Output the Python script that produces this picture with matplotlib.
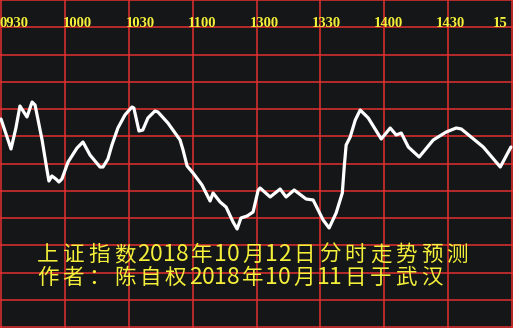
import matplotlib
matplotlib.use("Agg")
import matplotlib.pyplot as plt
from matplotlib.transforms import IdentityTransform

# ---- data ----
time_labels = ["0930", "1000", "1030", "1100", "1300", "1330", "1400", "1430", "15"]
# minutes after 09:30 (trading minutes) and relative index level (chart units)
minutes = [0.0, 4.7, 7.0, 8.9, 12.2, 14.6, 16.0, 19.3, 21.6, 22.5, 23.9, 25.8, 27.2, 28.6,
           31.5, 35.7, 38.5, 41.8, 46.5, 47.9, 50.2, 52.1, 54.9, 58.2, 61.5, 62.4, 64.8,
           66.6, 69.0, 72.3, 73.7, 78.4, 84.1, 85.5, 87.4, 90.2, 94.4, 98.2, 99.6, 102.9,
           105.7, 109.0, 110.9, 112.7, 115.6, 118.4, 120.8, 121.7, 126.4, 131.1, 133.9,
           137.7, 143.3, 146.6, 151.3, 154.1, 157.4, 160.3, 161.2, 162.1, 164.0, 166.4,
           168.7, 172.5, 178.6, 182.8, 185.6, 188.0, 191.3, 196.4, 203.0, 209.1, 213.8,
           216.2, 226.5, 234.5, 239.5]
level = [208, 178, 199, 221, 210, 225, 222, 187, 157, 146, 151, 148, 145, 148,
         165, 179, 185, 172, 160, 160, 168, 182, 199, 212, 220, 219, 196,
         197, 209, 216, 215, 204, 187, 177, 161, 154, 142, 126, 134, 125,
         120, 105, 98, 109, 111, 115, 137, 139, 130, 138, 130,
         137, 128, 127, 107, 99, 114, 134, 160, 182, 190, 207,
         217, 209, 188, 199, 192, 194, 180, 170, 187, 195, 199,
         198, 180, 160, 180]
title_lines = ["上证指数2018年10月12日分时走势预测",
               "作者：陈自权2018年10月11日于武汉"]

# ---- style ----
BG = "#151618"
RED = "#e3302f"
YEL = "#f4f03a"

W, H = 513, 328
fig = plt.figure(figsize=(W / 100, H / 100), dpi=100, facecolor=BG)
ax = fig.add_axes([0, 0, 1, 1], facecolor=BG)

x_per_min = 511 / 240.0
ax.set_xlim(-1 / x_per_min, 512 / x_per_min)
ax.set_ylim(-1, 327)

# grid
for k in range(9):
    ax.axvline(k * 30, color=RED, lw=1.1, zorder=1)
for k in range(13):
    ax.axhline(327 - 27.25 * k, color=RED, lw=1.1, zorder=1)

ax.plot(minutes, level, color="white", lw=2.3, solid_joinstyle="round",
        solid_capstyle="round", zorder=3)

for s in ax.spines.values():
    s.set_visible(False)
ax.set_xticks([])
ax.set_yticks([])

# top time labels (pixel placement)
label_px = [0, 63, 126, 188, 250, 312, 374, 436, 493]
for lab, px in zip(time_labels, label_px):
    ax.text(px, H - 27, lab, transform=IdentityTransform(), color=YEL,
            fontsize=10.5, fontweight="bold", family="Liberation Serif",
            ha="left", va="baseline", zorder=4)

# Chinese caption, laid out on a fixed character grid (full / half cells)
CELL = 25.6
for i, line in enumerate(title_lines):
    x = 35.0
    base = H - (261 + 23 * i)
    for ch in line:
        half = ord(ch) < 128
        w = CELL / 2 if half else CELL
        ax.text(x + w / 2, base, ch, transform=IdentityTransform(),
                color=YEL, fontsize=16.5 if half else 15.5,
                family=["Noto Sans CJK SC", "DejaVu Sans"],
                ha="center", va="baseline", zorder=4)
        x += w

fig.savefig("out.png", dpi=100, facecolor=BG)
